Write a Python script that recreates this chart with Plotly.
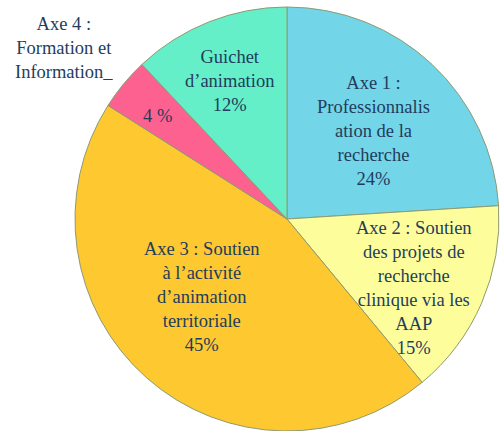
import plotly.graph_objects as go

W, H = 501, 431

labels = ["Axe 1 : Professionnalisation de la recherche",
          "Axe 2 : Soutien des projets de recherche clinique via les AAP",
          "Axe 3 : Soutien à l’activité d’animation territoriale",
          "Axe 4 : Formation et Information",
          "Guichet d’animation"]
values = [24, 15, 45, 4, 12]
colors = ["#73D5E8", "#FEFD9C", "#FDC830", "#FD6190", "#65EFC8"]

# label text lines (as displayed on the chart) and percent strings
label_lines = [
    ["Axe 1 :", "Professionnalis", "ation de la", "recherche"],
    ["Axe 2 : Soutien", "des projets de", "recherche", "clinique via les", "AAP"],
    ["Axe 3 : Soutien", "à l’activité", "d’animation", "territoriale"],
    ["Axe 4 :", "Formation et", "Information_"],
    ["Guichet", "d’animation"],
]
pct_text = ["24%", "15%", "45%", "4 %", "12%"]

# pie geometry (pixels)
cx, cy, r = 287, 219, 212

fig = go.Figure(go.Pie(
    labels=labels, values=values, sort=False, direction="clockwise", rotation=0,
    marker=dict(colors=colors, line=dict(color="#8E9A72", width=1)),
    textinfo="none", hoverinfo="label+percent", showlegend=False,
    domain=dict(x=[(cx - r) / W, (cx + r) / W], y=[(H - cy - r) / H, (H - cy + r) / H]),
))

font = dict(family="Liberation Serif, serif", size=18.5, color="#1F3D5C")

# text block centers (px)
blocks = [
    (373, 131, label_lines[0] + [pct_text[0]]),
    (414, 288, label_lines[1] + [pct_text[1]]),
    (202, 297, label_lines[2] + [pct_text[2]]),
    (64, 48, label_lines[3]),
    (229, 81, label_lines[4] + [pct_text[4]]),
    (157, 116, [pct_text[3]]),
]
for x, y, lines in blocks:
    fig.add_annotation(x=x / W, y=1 - y / H, xref="paper", yref="paper",
                       text="<br>".join(lines), showarrow=False, font=font,
                       xanchor="center", yanchor="middle", align="center")

fig.update_layout(width=W, height=H, margin=dict(l=0, r=0, t=0, b=0),
                  paper_bgcolor="white", plot_bgcolor="white")
fig.write_html("out.html", config={"displayModeBar": False},
               post_script="document.body.style.margin='0';document.body.style.overflow='hidden';")
